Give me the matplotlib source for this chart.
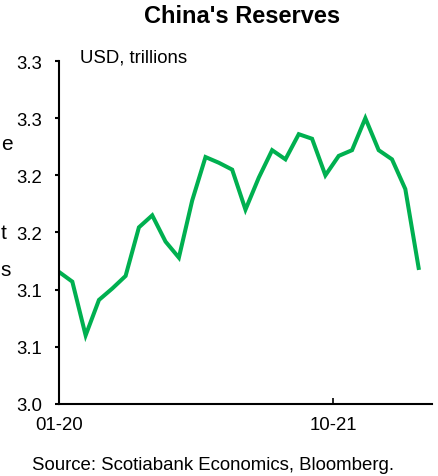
import matplotlib.pyplot as plt

plt.rcParams["font.family"] = ["Liberation Sans", "DejaVu Sans"]

# monthly reserves, Jan 2020 - Apr 2022 (USD trillions)
months = [
    "01-20", "02-20", "03-20", "04-20", "05-20", "06-20", "07-20", "08-20",
    "09-20", "10-20", "11-20", "12-20", "01-21", "02-21", "03-21", "04-21",
    "05-21", "06-21", "07-21", "08-21", "09-21", "10-21", "11-21", "12-21",
    "01-22", "02-22", "03-22", "04-22",
]
reserves = [
    3.1155, 3.107, 3.060, 3.091, 3.101, 3.112, 3.1545, 3.165,
    3.142, 3.128, 3.178, 3.216, 3.211, 3.205, 3.170, 3.198,
    3.222, 3.214, 3.236, 3.232, 3.200, 3.217, 3.222, 3.250,
    3.222, 3.214, 3.188, 3.119,
]
y_ticks = [3.0, 3.05, 3.1, 3.15, 3.2, 3.25, 3.3]
y_labels = ["3.0", "3.1", "3.1", "3.2", "3.2", "3.3", "3.3"]
x_labels = ["01-20", "10-21"]

fig = plt.figure(figsize=(4.38, 4.77), dpi=100)
ax = fig.add_axes([0.1347, 0.151, 0.8515, 0.719])

x = list(range(len(months)))
ax.plot(x, reserves, color="#00B050", linewidth=2.9, solid_joinstyle="miter")

ax.set_ylim(3.0, 3.3)
ax.set_xlim(0, 28)
ax.set_yticks(y_ticks)
ax.set_yticklabels(y_labels)
ax.set_xticks([0, 20.6])
ax.set_xticklabels(x_labels)

for side in ["top", "right"]:
    ax.spines[side].set_visible(False)
for side in ["left", "bottom"]:
    ax.spines[side].set_linewidth(1.5)

ax.tick_params(axis="y", direction="out", length=3, width=1.5, pad=9, labelsize=13.4)
ax.tick_params(axis="x", direction="in", length=4, width=1.2, pad=9, labelsize=13.4)

ax.text(0.056, 1.012, "USD, trillions", transform=ax.transAxes,
        fontsize=13.4, ha="left", va="center")

fig.text(0.552, 0.966, "China's Reserves", fontsize=17, fontweight="bold",
         ha="center", va="center")
fig.text(0.487, 0.025, "Source: Scotiabank Economics, Bloomberg.", fontsize=13.4,
         ha="center", va="center")

# letters from a neighbouring panel at the left edge
for letter, ypix in [("e", 145), ("t", 234), ("s", 271)]:
    fig.text(0.002, 1 - ypix / 477, letter, fontsize=15, ha="left", va="center")

fig.savefig("out.png", dpi=100)
